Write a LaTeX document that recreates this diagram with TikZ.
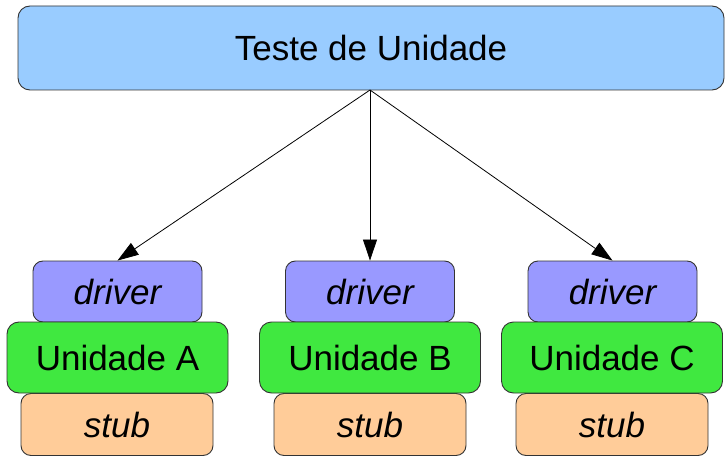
\documentclass[tikz,border=0pt]{standalone}
\usepackage{fontspec}
\setmainfont{Liberation Sans}
\usetikzlibrary{arrows.meta}
\definecolor{topblue}{HTML}{99CCFF}
\definecolor{drvblue}{HTML}{9999FF}
\definecolor{unigreen}{HTML}{40E840}
\definecolor{stuborange}{HTML}{FFCC99}
\definecolor{edgegray}{HTML}{333333}
\begin{document}
\begin{tikzpicture}[x=1pt,y=-1pt,
  box/.style={draw=edgegray, line width=0.9pt, inner sep=0pt, font=\fontsize{35}{42}\selectfont},
  topbox/.style={box, fill=topblue, rounded corners=12pt, minimum width=706pt, minimum height=84pt},
  drvbox/.style={box, fill=drvblue, rounded corners=10pt, minimum width=169pt, minimum height=61pt, font=\fontsize{35}{42}\selectfont\itshape},
  unibox/.style={box, fill=unigreen, rounded corners=12pt, minimum width=221pt, minimum height=71pt},
  stubbox/.style={box, fill=stuborange, rounded corners=10pt, minimum width=192pt, minimum height=62pt, font=\fontsize{35}{42}\selectfont\itshape},
  conn/.style={line width=0.8pt, -{Triangle[length=21pt,width=14pt]}}
]
\useasboundingbox (0,0) rectangle (727,462);
\node[topbox] (top) at (371,48) {Teste de Unidade};
\coordinate (src) at (370,90);

\node[drvbox] (drvA) at (117.5,291.5) {driver};
\node[drvbox] (drvB) at (370,291.5) {driver};
\node[drvbox] (drvC) at (612.5,291.5) {driver};

\node[stubbox] (stubA) at (117,424.5) {stub};
\node[stubbox] (stubB) at (370,424.5) {stub};
\node[stubbox] (stubC) at (612,424.5) {stub};

\node[unibox] (uniA) at (117.5,357.5) {Unidade A};
\node[unibox] (uniB) at (370,357.5) {Unidade B};
\node[unibox] (uniC) at (612,357.5) {Unidade C};

\draw[conn] (src) -- (drvA.north);
\draw[conn] (src) -- (drvB.north);
\draw[conn] (src) -- (drvC.north);
\end{tikzpicture}
\end{document}
